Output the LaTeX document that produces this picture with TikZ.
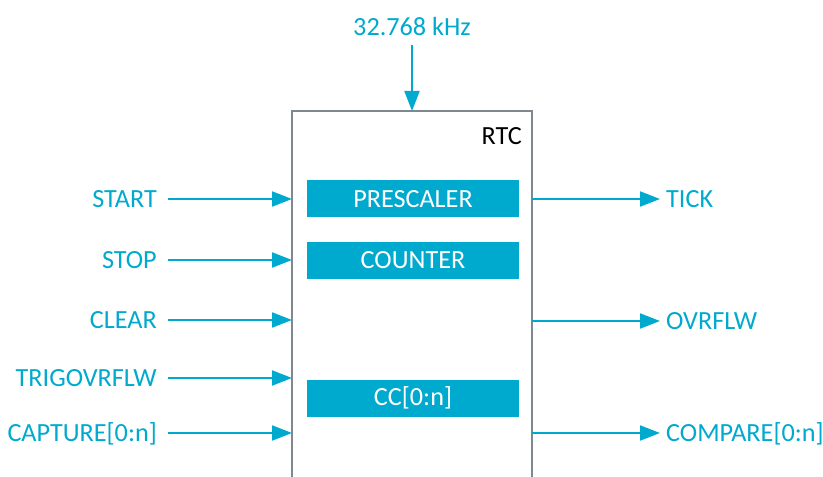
\documentclass[tikz,border=0pt]{standalone}
\usepackage{fontspec}
\setmainfont{Carlito}
\usetikzlibrary{arrows.meta}
\definecolor{cy}{HTML}{00A9CE}
\definecolor{fr}{HTML}{7F8891}
\begin{document}
\begin{tikzpicture}[x=1bp,y=-1bp,
  lbl/.style={text=cy,font=\fontsize{26.3}{30}\selectfont,inner sep=0pt},
  blk/.style={fill=cy,text=white,font=\fontsize{26.3}{30}\selectfont,minimum width=212bp,minimum height=37bp,inner sep=0pt},
  arr/.style={draw=cy,line width=2bp,-{Triangle[length=20bp,width=15bp]}},
  frm/.style={draw=fr,line width=2bp}]
\useasboundingbox (0,0) rectangle (823,477);
% frame (open at bottom)
\draw[frm] (292,478) -- (292,111) -- (532,111) -- (532,478);
\node[anchor=base east,inner sep=0pt,font=\fontsize{26.3}{30}\selectfont] (rtc) at (522,145) {RTC};
% clock input
\node[lbl,anchor=base] (clk) at (412,35.5) {32.768 kHz};
\coordinate (clkin) at (412,111);
\draw[arr] (412,45) -- (clkin);
% internal blocks
\node[blk] (pre) at (413,199) {PRESCALER};
\node[blk] (cnt) at (413,260.5) {COUNTER};
\node[blk] (cc) at (413,398) {CC[0:n]};
% left inputs
\foreach \n/\t/\y in {start/START/199, stop/STOP/260, clear/CLEAR/320, trig/TRIGOVRFLW/378, cap/CAPTURE[0:n]/433}{
  \node[lbl,anchor=base east] (\n) at (157,\y+8.5) {\t};
  \coordinate (\n in) at (292,\y);
  \coordinate (\n out) at (168,\y);
  \draw[arr] (\n out) -- (\n in);
}
% right outputs
\foreach \n/\t/\y in {tick/TICK/199, ovf/OVRFLW/321, cmp/COMPARE[0:n]/433}{
  \node[lbl,anchor=base west] (\n) at (666,\y+8.5) {\t};
  \coordinate (\n src) at (532,\y);
  \coordinate (\n end) at (660,\y);
  \draw[arr] (\n src) -- (\n end);
}
\end{tikzpicture}
\end{document}
